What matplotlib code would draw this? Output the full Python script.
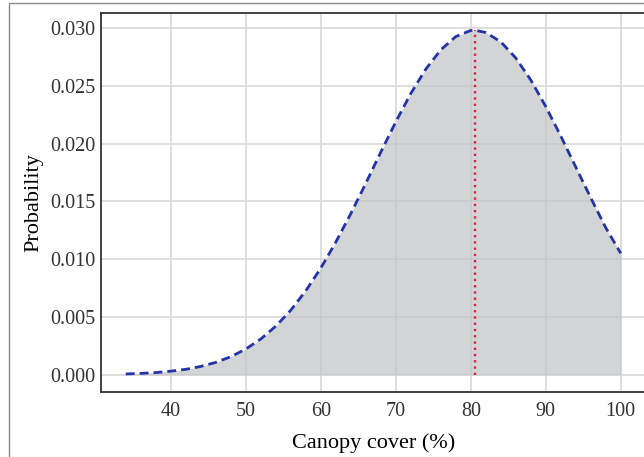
import matplotlib
matplotlib.use('Agg')
import matplotlib.pyplot as plt
from matplotlib.patches import Rectangle

# valores (cobertura do dossel x probabilidade)
canopy = [34, 36, 38, 40, 42, 44, 46, 48, 50, 52, 54, 56, 58, 60, 62, 64, 66,
          68, 70, 72, 74, 76, 78, 80, 80.6, 82, 84, 86, 88, 90, 92, 94, 96, 98, 100]
prob = [0.00007, 0.00012, 0.00019, 0.00031, 0.00047, 0.00072, 0.00107, 0.00156,
        0.00222, 0.00309, 0.00420, 0.00558, 0.00726, 0.00922, 0.01146, 0.01393,
        0.01655, 0.01925, 0.02187, 0.02432, 0.02643, 0.02810, 0.02925, 0.02978,
        0.02980, 0.02960, 0.02880, 0.02740, 0.02550, 0.02320, 0.02065, 0.01797,
        0.01530, 0.01272, 0.01050]
mode_x = 80.6

plt.rcParams['font.family'] = ['Liberation Serif', 'DejaVu Serif']
plt.rcParams['text.color'] = '#333333'

fig = plt.figure(figsize=(6.44, 4.57), dpi=100)
ax = fig.add_axes([101 / 644, 65 / 457, 544.5 / 644, 379 / 457])

ax.fill_between(canopy, prob, 0, color='#c2c4c7', alpha=0.72, linewidth=0)
ax.plot(canopy, prob, color='#2433a6', linestyle='--', linewidth=2.0, dashes=(3.2, 1.8))
ax.plot([mode_x, mode_x], [0, max(prob)], color='#e0203c', linestyle=':', linewidth=1.7)

ax.set_xlim(30.7, 103.3)
ax.set_ylim(-0.00149, 0.03129)
ax.set_xticks([40, 50, 60, 70, 80, 90, 100])
ax.set_yticks([0.000, 0.005, 0.010, 0.015, 0.020, 0.025, 0.030])
ax.set_yticklabels(['0.000', '0.005', '0.010', '0.015', '0.020', '0.025', '0.030'])
ax.grid(True, color='#d8d8d8', linewidth=1.2)
ax.set_axisbelow(True)
ax.tick_params(length=0, labelsize=14.5, colors='#333333')
ax.tick_params(axis='y', pad=4)
ax.tick_params(axis='x', pad=7)
for s in ['left', 'top', 'bottom', 'right']:
    ax.spines[s].set_color('#333333')
    ax.spines[s].set_linewidth(1.3)

ax.set_xlabel('Canopy cover (%)', fontsize=16, labelpad=9)
ax.set_ylabel('Probability', fontsize=16, labelpad=5)

fig.patches.append(Rectangle((9 / 644, -0.1), 1.2, (454 / 457) + 0.1,
                             transform=fig.transFigure, fill=False,
                             edgecolor='#8a8a8a', linewidth=1.0))

fig.savefig('out.png', dpi=100)
